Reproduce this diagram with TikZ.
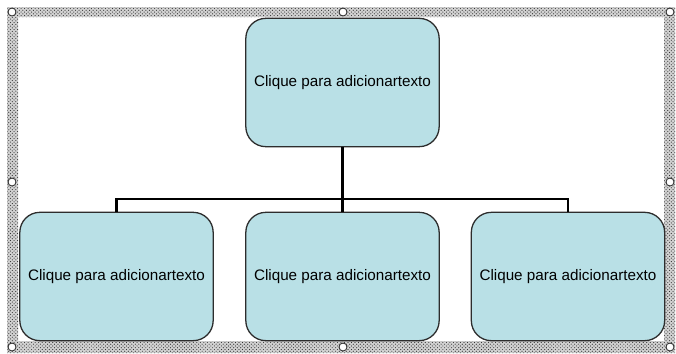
\documentclass[tikz,border=0pt]{standalone}
\usepackage{fontspec}
\newfontfamily\rotulo{Liberation Sans}
\usetikzlibrary{patterns}
\definecolor{azulcaixa}{RGB}{185,224,230}
\definecolor{bordacaixa}{RGB}{45,45,45}

\begin{document}
\begin{tikzpicture}[x=0.03cm, y=-0.03cm,
    caixa/.style={draw=bordacaixa, line width=1.1pt, fill=azulcaixa, rounded corners=0.6cm,
        minimum width=5.8cm, minimum height=3.85cm, inner sep=0pt,
        font=\rotulo\fontsize{13}{15}\selectfont},
    ramo/.style={line width=2.4pt, black},
    alca/.style={draw=gray!30!black, fill=white, line width=0.7pt}]

    % Moldura de seleção
    \fill[white] (0,0) rectangle (676,353);
    \useasboundingbox (0,0) rectangle (676,353);
    \fill[gray!35, even odd rule]
        (7,7) rectangle (675,353) (18,17) rectangle (664,341);
    \fill[pattern=crosshatch dots, pattern color=gray!40!black, even odd rule]
        (7,7) rectangle (675,353) (18,17) rectangle (664,341);

    % Caixas
    \node[caixa] (topo) at (342.5,82.5) {Clique para adicionartexto};
    \node[caixa] (esq) at (116.5,276.5) {Clique para adicionartexto};
    \node[caixa] (meio) at (342.5,276.5) {Clique para adicionartexto};
    \node[caixa] (dir) at (568,276.5) {Clique para adicionartexto};

    % Ligações
    \coordinate (barra) at (342.5,199);
    \draw[ramo] (topo.south) -- (meio.north);
    \draw[ramo] (esq.north) |- (barra) -| (dir.north);

    % Alças
    \foreach \px/\py in {12/12, 343/12, 670/12, 12/182, 670/182, 12/347, 343/347, 670/347}
        \draw[alca] (\px,\py) circle[radius=1.2mm];

\end{tikzpicture}
\end{document}
